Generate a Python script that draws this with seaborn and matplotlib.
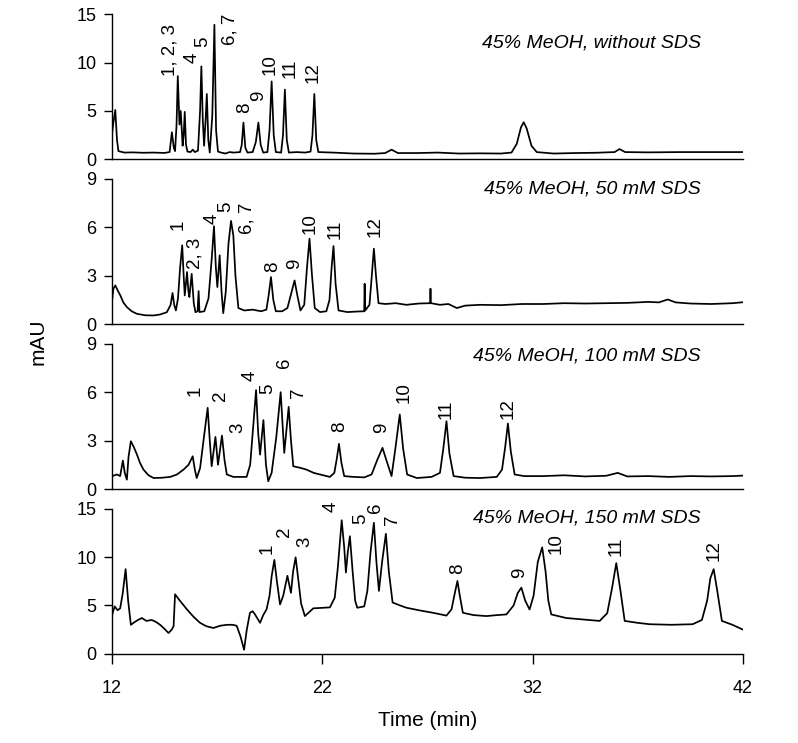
import matplotlib
matplotlib.use("Agg")
import matplotlib.pyplot as plt
import seaborn as sns

# ---- data ----
titles = ["45% MeOH, without SDS", "45% MeOH, 50 mM SDS",
          "45% MeOH, 100 mM SDS", "45% MeOH, 150 mM SDS"]
y_limits = [15, 9, 9, 15]
y_ticks = [[0, 5, 10, 15], [0, 3, 6, 9], [0, 3, 6, 9], [0, 5, 10, 15]]
x_ticks = [12, 22, 32, 42]

t_sds0 = [12.00, 12.08, 12.17, 12.25, 12.32, 12.6, 13.0, 13.5, 14.0, 14.5, 14.75, 14.86, 14.95, 15.01,
          15.08, 15.14, 15.22, 15.28, 15.37, 15.42, 15.47, 15.53, 15.60, 15.75, 15.85, 15.95, 16.10,
          16.20, 16.26, 16.33, 16.39, 16.46, 16.52, 16.59, 16.66, 16.78, 16.88, 16.96, 17.05, 17.2,
          17.4, 17.6, 17.8, 18.1, 18.18, 18.26, 18.35, 18.45, 18.7, 18.85, 18.97, 19.08, 19.2, 19.4,
          19.5, 19.60, 19.70, 19.8, 20.05, 20.14, 20.23, 20.32, 20.42, 20.8, 21.2, 21.45, 21.54,
          21.63, 21.72, 21.82, 22.5, 23.5, 24.5, 25.0, 25.30, 25.6, 26.5, 27.5, 28.5, 29.5, 30.5,
          31.0, 31.25, 31.45, 31.58, 31.72, 31.95, 32.2, 33.0, 34.0, 35.0, 35.9, 36.13, 36.4, 37.5,
          39.0, 40.5, 42.0]
mau_sds0 = [2.4, 3.8, 5.1, 2.0, 0.85, 0.7, 0.72, 0.68, 0.7, 0.66, 0.75, 2.8, 1.2, 0.85,
            3.5, 8.6, 3.6, 5.0, 1.4, 2.5, 4.9, 1.5, 0.8, 0.75, 1.0, 0.75, 0.9,
            5.0, 9.6, 4.0, 1.4, 4.0, 6.75, 2.0, 0.7, 4.5, 13.9, 3.0, 0.8, 0.7,
            0.6, 0.75, 0.7, 0.75, 1.5, 3.8, 1.2, 0.7, 0.75, 1.8, 3.8, 1.5, 0.7, 0.75,
            3.0, 8.05, 2.5, 0.75, 0.7, 2.5, 7.2, 2.0, 0.7, 0.75, 0.7, 0.8, 2.5,
            6.75, 2.0, 0.75, 0.7, 0.6, 0.58, 0.65, 1.0, 0.65, 0.65, 0.7, 0.6, 0.62, 0.6,
            0.7, 1.6, 3.3, 3.83, 3.2, 1.4, 0.75, 0.6, 0.65, 0.68, 0.75, 1.06, 0.75, 0.72,
            0.75, 0.75, 0.75]

t_sds50 = [12.00, 12.08, 12.17, 12.28, 12.41, 12.55, 12.72, 12.95, 13.2, 13.6, 13.99, 14.3, 14.62,
           14.80, 14.89, 14.97, 15.05, 15.15, 15.25, 15.35, 15.42, 15.47, 15.58, 15.64, 15.69, 15.80,
           15.90, 15.98, 16.08, 16.13, 16.17, 16.40, 16.60, 16.75, 16.86, 16.95, 17.02, 17.13, 17.22,
           17.30, 17.42, 17.55, 17.67, 17.78, 17.88, 18.02, 18.3, 18.7, 19.1, 19.35, 19.46, 19.57,
           19.68, 19.80, 20.1, 20.35, 20.55, 20.69, 20.82, 20.97, 21.15, 21.28, 21.40, 21.52, 21.65,
           21.9, 22.2, 22.35, 22.45, 22.54, 22.64, 22.78, 23.2, 23.6, 24.0, 24.02, 24.05, 24.25,
           24.36, 24.46, 24.56, 24.68, 25.0, 25.5, 26.0, 26.6, 27.13, 27.15, 27.17, 27.6, 28.0,
           28.4, 28.8, 29.5, 30.5, 31.5, 32.5, 33.5, 34.5, 35.5, 36.5, 37.5, 38.0, 38.43, 38.8,
           39.5, 40.5, 41.5, 42.0]
mau_sds50 = [1.26, 2.2, 2.4, 2.1, 1.78, 1.35, 1.06, 0.8, 0.64, 0.55, 0.54, 0.6, 0.74,
             1.2, 1.93, 1.2, 0.85, 1.6, 3.5, 4.89, 3.0, 1.78, 3.23, 2.1, 1.68, 3.12,
             1.3, 0.74, 0.8, 2.05, 0.75, 0.8, 1.6, 4.0, 6.07, 3.5, 2.3, 4.27, 2.0,
             0.68, 2.0, 5.0, 6.4, 5.5, 3.0, 1.0, 0.85, 0.9, 0.8, 0.9, 1.8, 2.92,
             1.5, 0.8, 0.8, 1.0, 2.0, 2.71, 1.8, 0.85, 1.2, 3.5, 5.3, 3.0, 1.0,
             0.75, 0.8, 1.5, 3.5, 4.84, 2.5, 0.85, 0.75, 0.78, 0.8, 2.5, 0.85, 1.2,
             3.0, 4.68, 3.0, 1.3, 1.25, 1.3, 1.2, 1.28, 1.3, 2.2, 1.3, 1.2, 1.25,
             1.0, 1.15, 1.2, 1.18, 1.25, 1.25, 1.3, 1.28, 1.3, 1.32, 1.38, 1.35, 1.53, 1.35,
             1.28, 1.25, 1.3, 1.36]

t_sds100 = [12.00, 12.25, 12.40, 12.53, 12.62, 12.72, 12.80, 12.91, 13.05, 13.20, 13.35, 13.51,
            13.75, 13.99, 14.4, 14.78, 15.1, 15.41, 15.65, 15.85, 15.95, 16.04, 16.2, 16.40, 16.56,
            16.66, 16.75, 16.93, 17.05, 17.24, 17.36, 17.47, 17.78, 18.41, 18.58, 18.72, 18.86,
            18.96, 19.05, 19.21, 19.33, 19.44, 19.60, 19.82, 20.03, 20.12, 20.20, 20.41, 20.52,
            20.63, 21.0, 21.26, 21.60, 21.90, 22.37, 22.58, 22.70, 22.80, 22.92, 23.05, 23.5, 24.0,
            24.35, 24.62, 24.87, 25.05, 25.30, 25.48, 25.69, 25.85, 26.04, 26.5, 27.2, 27.6, 27.76,
            27.91, 28.05, 28.25, 28.8, 29.5, 30.3, 30.55, 30.70, 30.83, 30.97, 31.15, 31.6, 32.5,
            33.5, 34.5, 35.5, 36.05, 36.5, 37.5, 38.5, 39.5, 40.5, 41.5, 42.0]
mau_sds100 = [0.79, 0.9, 0.8, 1.76, 1.0, 0.58, 2.0, 2.96, 2.6, 2.13, 1.6, 1.2,
              0.85, 0.68, 0.7, 0.75, 0.9, 1.2, 1.5, 2.03, 1.2, 0.68, 1.3, 3.4, 5.03,
              3.0, 1.41, 3.23, 1.5, 3.31, 1.8, 0.9, 0.75, 0.75, 1.5, 3.8, 6.13,
              3.5, 2.13, 4.27, 1.5, 0.48, 1.0, 3.2, 6.0, 4.0, 2.24, 5.09, 3.0,
              1.41, 1.3, 1.2, 1.0, 0.9, 0.75, 1.0, 1.9, 2.8, 1.6, 0.8, 0.75, 0.72,
              0.9, 1.8, 2.55, 1.8, 0.8, 2.5, 4.62, 2.5, 0.9, 0.68, 0.75, 1.0, 2.5,
              4.2, 2.2, 0.8, 0.7, 0.68, 0.75, 1.2, 2.6, 4.06, 2.3, 0.9, 0.8, 0.8,
              0.85, 0.78, 0.82, 1.0, 0.78, 0.8, 0.75, 0.8, 0.78, 0.8, 0.83]

t_sds150 = [12.00, 12.14, 12.28, 12.40, 12.52, 12.66, 12.78, 12.91, 13.10, 13.25, 13.43, 13.65,
            13.90, 14.10, 14.30, 14.50, 14.70, 14.85, 14.94, 15.01, 15.20, 15.57, 15.9, 16.2, 16.5,
            16.83, 17.15, 17.47, 17.75, 17.94, 18.12, 18.29, 18.42, 18.57, 18.70, 18.81, 19.05,
            19.20, 19.36, 19.50, 19.60, 19.73, 19.85, 20.00, 20.15, 20.35, 20.45, 20.52, 20.62,
            20.74, 20.85, 21.00, 21.18, 21.58, 22.0, 22.37, 22.60, 22.75, 22.93, 23.05, 23.13,
            23.22, 23.32, 23.45, 23.57, 23.67, 24.00, 24.15, 24.30, 24.46, 24.58, 24.70, 24.85,
            25.03, 25.17, 25.35, 25.70, 26.01, 26.6, 27.27, 27.91, 28.15, 28.30, 28.43, 28.56,
            28.69, 29.2, 29.81, 30.3, 30.76, 31.10, 31.30, 31.47, 31.65, 31.86, 32.05, 32.25,
            32.46, 32.62, 32.75, 32.89, 33.60, 34.4, 35.19, 35.55, 35.78, 35.98, 36.18, 36.38,
            37.0, 37.56, 38.6, 39.61, 40.05, 40.30, 40.45, 40.61, 40.78, 41.00, 41.5, 42.0]
mau_sds150 = [3.9, 4.9, 4.5, 4.7, 6.2, 8.75, 5.5, 3.0, 3.3, 3.5, 3.7, 3.4,
              3.5, 3.3, 3.0, 2.6, 2.15, 2.5, 2.85, 6.15, 5.6, 4.6, 3.8, 3.2, 2.85,
              2.67, 2.9, 3.0, 3.0, 2.9, 1.8, 0.42, 2.5, 4.24, 4.4, 4.07, 3.2,
              4.0, 4.6, 6.0, 8.0, 9.7, 7.5, 5.1, 6.0, 8.06, 7.0, 6.3, 8.5,
              9.97, 8.0, 5.2, 3.9, 4.7, 4.75, 4.8, 5.8, 9.0, 13.8, 11.0, 8.4,
              10.5, 12.15, 8.5, 5.5, 4.76, 4.9, 6.5, 10.5, 13.54, 9.5, 6.5, 9.5,
              12.4, 8.5, 5.3, 5.0, 4.76, 4.5, 4.24, 3.95, 4.6, 6.2, 7.53, 5.8,
              4.24, 4.0, 3.9, 4.0, 4.07, 5.0, 6.3, 6.84, 5.5, 4.58, 6.0, 9.5,
              11.0, 8.5, 5.5, 4.07, 3.7, 3.55, 3.4, 4.2, 6.8, 9.37, 6.5, 3.4,
              3.2, 3.06, 3.0, 3.06, 3.5, 5.5, 7.8, 8.75, 6.5, 3.4, 3.0, 2.5]

# peak labels: text, time of label centre, mAU of label bottom
lab_sds0 = ["1, 2, 3", "4", "5", "6, 7", "8", "9", "10", "11", "12"]
lab_x_sds0 = [14.78, 15.80, 16.33, 17.62, 18.34, 18.97, 19.52, 20.47, 21.58]
lab_y_sds0 = [8.6, 9.9, 11.65, 11.8, 4.8, 6.0, 8.74, 8.4, 7.9]

lab_sds50 = ["1", "2, 3", "4", "5", "6, 7", "8", "9", "10", "11", "12"]
lab_x_sds50 = [15.17, 15.96, 16.79, 17.42, 18.42, 19.65, 20.71, 21.45, 22.61, 24.51]
lab_y_sds50 = [5.82, 3.43, 6.23, 6.96, 5.61, 3.23, 3.43, 5.61, 5.3, 5.4]

lab_sds100 = ["1", "2", "3", "4", "5", "6", "7", "8", "9", "10", "11", "12"]
lab_x_sds100 = [15.96, 17.15, 17.99, 18.60, 19.40, 20.23, 20.90, 22.85, 24.84, 25.88, 27.91, 30.83]
lab_y_sds100 = [5.76, 5.45, 3.48, 6.69, 5.86, 7.5, 5.65, 3.52, 3.48, 5.34, 4.35, 4.35]

lab_sds150 = ["1", "2", "3", "4", "5", "6", "7", "8", "9", "10", "11", "12"]
lab_x_sds150 = [19.37, 20.23, 21.18, 22.45, 23.83, 24.55, 25.33, 28.46, 31.39, 33.13, 35.98, 40.64]
lab_y_sds150 = [10.3, 12.05, 11.0, 14.65, 13.4, 14.5, 13.26, 8.23, 7.88, 10.3, 10.14, 9.6]

traces = [(t_sds0, mau_sds0), (t_sds50, mau_sds50), (t_sds100, mau_sds100), (t_sds150, mau_sds150)]
labels = [(lab_sds0, lab_x_sds0, lab_y_sds0), (lab_sds50, lab_x_sds50, lab_y_sds50),
          (lab_sds100, lab_x_sds100, lab_y_sds100), (lab_sds150, lab_x_sds150, lab_y_sds150)]
title_y = [0.80, 0.93, 0.917, 0.9375]

sns.set_style("ticks", {"axes.edgecolor": "black", "text.color": "black",
                        "xtick.color": "black", "ytick.color": "black",
                        "axes.labelcolor": "black"})
plt.rcParams["font.family"] = ["Liberation Sans", "DejaVu Sans"]

fig, axes = plt.subplots(4, 1, figsize=(7.98, 7.43), dpi=100, sharex=True)
fig.subplots_adjust(left=0.14, right=0.931, top=0.981, bottom=0.12, hspace=0.135)

for i, ax in enumerate(axes):
    tt, yy = traces[i]
    sns.lineplot(x=tt, y=yy, ax=ax, color="black", linewidth=1.25, estimator=None, sort=False)
    ax.set_xlim(12, 42)
    ax.set_ylim(0, y_limits[i])
    ax.set_yticks(y_ticks[i])
    ax.tick_params(axis="y", direction="out", length=6, width=1, labelsize=13, pad=5)
    for side in ["top", "right"]:
        ax.spines[side].set_visible(False)
    ax.spines["left"].set_linewidth(1)
    ax.spines["bottom"].set_linewidth(1)
    txt, lx, ly = labels[i]
    for s, x, y in zip(txt, lx, ly):
        ax.text(x, y, s, rotation=90, ha="center", va="bottom", fontsize=13.5)
    ax.text(0.933, title_y[i], titles[i], transform=ax.transAxes, ha="right", va="center",
            fontsize=14, style="italic")
    if i < 3:
        ax.tick_params(axis="x", bottom=False, labelbottom=False)

axes[-1].set_xticks(x_ticks)
axes[-1].tick_params(axis="x", direction="out", length=7, width=1, labelsize=13, pad=12)
axes[-1].set_xlabel("Time (min)", fontsize=15, labelpad=10)
fig.text(0.048, 0.54, "mAU", rotation=90, ha="center", va="center", fontsize=15)

plt.savefig("out.png", dpi=100)
